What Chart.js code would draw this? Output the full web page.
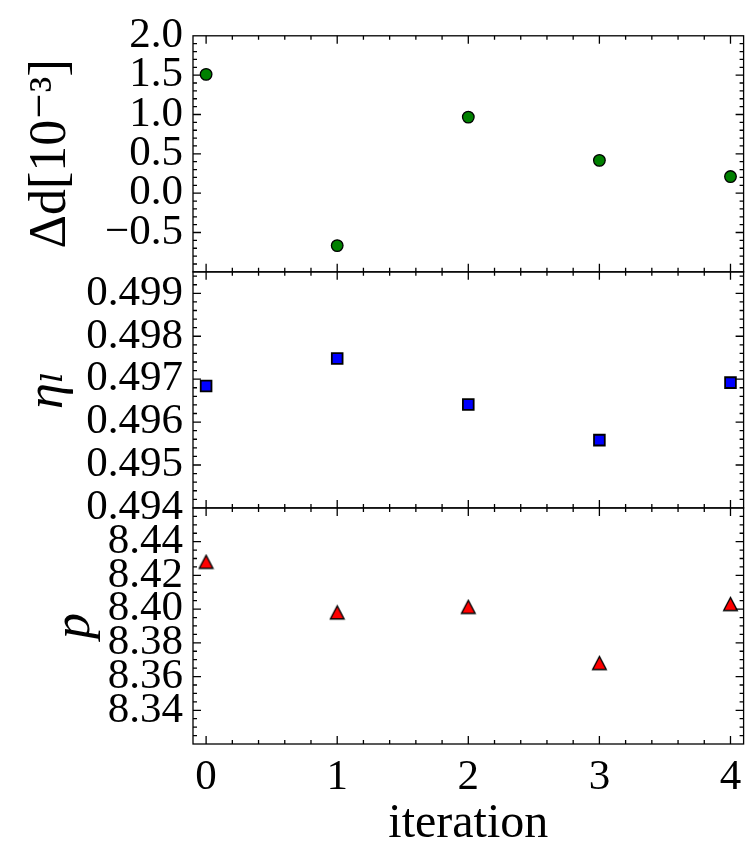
<!DOCTYPE html>
<html>
<head>
<meta charset="utf-8">
<script src="https://cdn.jsdelivr.net/npm/chart.js@4.4.0/dist/chart.umd.min.js"></script>
<style>
  html, body { margin: 0; padding: 0; background: #fff; }
  #wrap { width: 753px; height: 847px; }
</style>
</head>
<body>
<div id="wrap"><canvas id="chart" width="753" height="847"></canvas></div>
<script>
// x values (iteration number)
var iterations = [0, 1, 2, 3, 4];
// one series per panel
var deltaD = [1.51, -0.666, 0.967, 0.417, 0.211];
var etaL = [0.49684, 0.49748, 0.49641, 0.49558, 0.49692];
var pVals = [8.4279, 8.3979, 8.4012, 8.3679, 8.4029];

// tick labels
var xTicks = [0, 1, 2, 3, 4];
var dTicks = [-0.5, 0.0, 0.5, 1.0, 1.5, 2.0];
var etaTicks = [0.494, 0.495, 0.496, 0.497, 0.498, 0.499];
var pTicks = [8.34, 8.36, 8.38, 8.40, 8.42, 8.44];

var SERIF = "'Liberation Serif', 'DejaVu Serif', serif";

function pts(ys) {
  return iterations.map(function (x, i) { return {x: x, y: ys[i]}; });
}

// matplotlib-like '^' marker, centred on its bounding box
function triangleMarker() {
  var c = document.createElement('canvas');
  c.width = 17; c.height = 17;
  var g = c.getContext('2d');
  g.beginPath();
  g.moveTo(8.5, 1.8);
  g.lineTo(1.7, 14.8);
  g.lineTo(15.3, 14.8);
  g.closePath();
  g.fillStyle = '#ff0000';
  g.fill();
  g.lineWidth = 1.4;
  g.strokeStyle = '#000';
  g.stroke();
  return c;
}

function minorValues(min, max, step) {
  var out = [];
  var start = Math.ceil(min / step - 1e-9);
  var end = Math.floor(max / step + 1e-9);
  for (var i = start; i <= end; i++) out.push(i * step);
  return out;
}

function minusFmt(v, digits) {
  var s = Math.abs(v).toFixed(digits);
  return v < 0 ? '\u2212' + s : s;
}

// frames + inward major/minor ticks on every side of every panel
var framePlugin = {
  id: 'frames',
  afterDatasetsDraw: function (chart) {
    var ctx = chart.ctx;
    var area = chart.chartArea;
    var xs = chart.scales.x;
    var xMinor = minorValues(xs.min, xs.max, 0.2);
    var panels = [
      {id: 'yD', major: dTicks, step: 0.1},
      {id: 'yEta', major: etaTicks, step: 0.0002},
      {id: 'yP', major: pTicks, step: 0.005}
    ];
    ctx.save();
    ctx.strokeStyle = '#000';
    ctx.lineWidth = 1.3;
    panels.forEach(function (p) {
      var s = chart.scales[p.id];
      var top = s.top, bottom = s.bottom, left = area.left, right = area.right;
      ctx.strokeRect(left, top, right - left, bottom - top);
      ctx.beginPath();
      function yTick(v, len) {
        var y = s.getPixelForValue(v);
        if (y < top + 0.5 || y > bottom - 0.5) return;
        ctx.moveTo(left, y); ctx.lineTo(left + len, y);
        ctx.moveTo(right, y); ctx.lineTo(right - len, y);
      }
      function xTick(v, len) {
        var x = xs.getPixelForValue(v);
        if (x < left + 0.5 || x > right - 0.5) return;
        ctx.moveTo(x, top); ctx.lineTo(x, top + len);
        ctx.moveTo(x, bottom); ctx.lineTo(x, bottom - len);
      }
      minorValues(s.min, s.max, p.step).forEach(function (v) { yTick(v, 4); });
      p.major.forEach(function (v) { yTick(v, 8); });
      xMinor.forEach(function (v) { xTick(v, 4); });
      xTicks.forEach(function (v) { xTick(v, 8); });
      ctx.stroke();
    });
    ctx.restore();
  }
};

function yAxis(min, max, ticks, digits, title, italic, pad) {
  return {
    type: 'linear',
    position: 'left',
    stack: 'panels',
    stackWeight: 1,
    min: min,
    max: max,
    grid: {display: false, drawTicks: false},
    border: {display: false},
    afterBuildTicks: function (scale) {
      scale.ticks = ticks.map(function (v) { return {value: v}; });
    },
    afterFit: function (scale) { scale.width = 193; },
    ticks: {
      autoSkip: false,
      padding: 10,
      color: '#000',
      font: {family: SERIF, size: 43},
      callback: function (v) { return minusFmt(v, digits); }
    },
    title: {
      display: true,
      text: title,
      color: '#000',
      font: {family: SERIF, size: 52, style: italic ? 'italic' : 'normal'},
      padding: {top: pad, bottom: 0}
    }
  };
}

new Chart(document.getElementById('chart'), {
  type: 'scatter',
  data: {
    datasets: [
      {
        data: pts(pVals), yAxisID: 'yP',
        pointStyle: triangleMarker(), pointRadius: 7,
        backgroundColor: '#ff0000', borderColor: '#000'
      },
      {
        data: pts(etaL), yAxisID: 'yEta',
        pointStyle: 'rect', pointRadius: 7.6, borderWidth: 1.8,
        backgroundColor: '#0000ff', borderColor: '#000'
      },
      {
        data: pts(deltaD), yAxisID: 'yD',
        pointStyle: 'circle', pointRadius: 5.8, borderWidth: 1.3,
        backgroundColor: '#008000', borderColor: '#000'
      }
    ]
  },
  options: {
    responsive: false,
    animation: false,
    devicePixelRatio: 1,
    layout: {padding: {top: 19, right: 7, left: 0, bottom: 0}},
    plugins: {legend: {display: false}, tooltip: {enabled: false}},
    scales: {
      x: {
        type: 'linear',
        min: -0.1,
        max: 4.1,
        grid: {display: false, drawTicks: false},
        border: {display: false},
        afterBuildTicks: function (scale) {
          scale.ticks = xTicks.map(function (v) { return {value: v}; });
        },
        afterFit: function (scale) { scale.height = 103; },
        ticks: {
          autoSkip: false,
          padding: 8,
          maxRotation: 0,
          color: '#000',
          font: {family: SERIF, size: 43},
          callback: function (v) { return String(v); }
        },
        title: {
          display: true,
          text: 'iteration',
          color: '#000',
          font: {family: SERIF, size: 48},
          padding: {top: 0, bottom: -6}
        }
      },
      yP: yAxis(8.32, 8.46, pTicks, 2, 'p', true, 44),
      yEta: yAxis(0.494, 0.4995, etaTicks, 3, '\u03b7\u2097', true, 17),
      yD: yAxis(-1.0, 2.0, dTicks, 1, '\u0394d[10\u207b\u00b3]', false, 20)
    }
  },
  plugins: [framePlugin]
});
</script>
</body>
</html>
